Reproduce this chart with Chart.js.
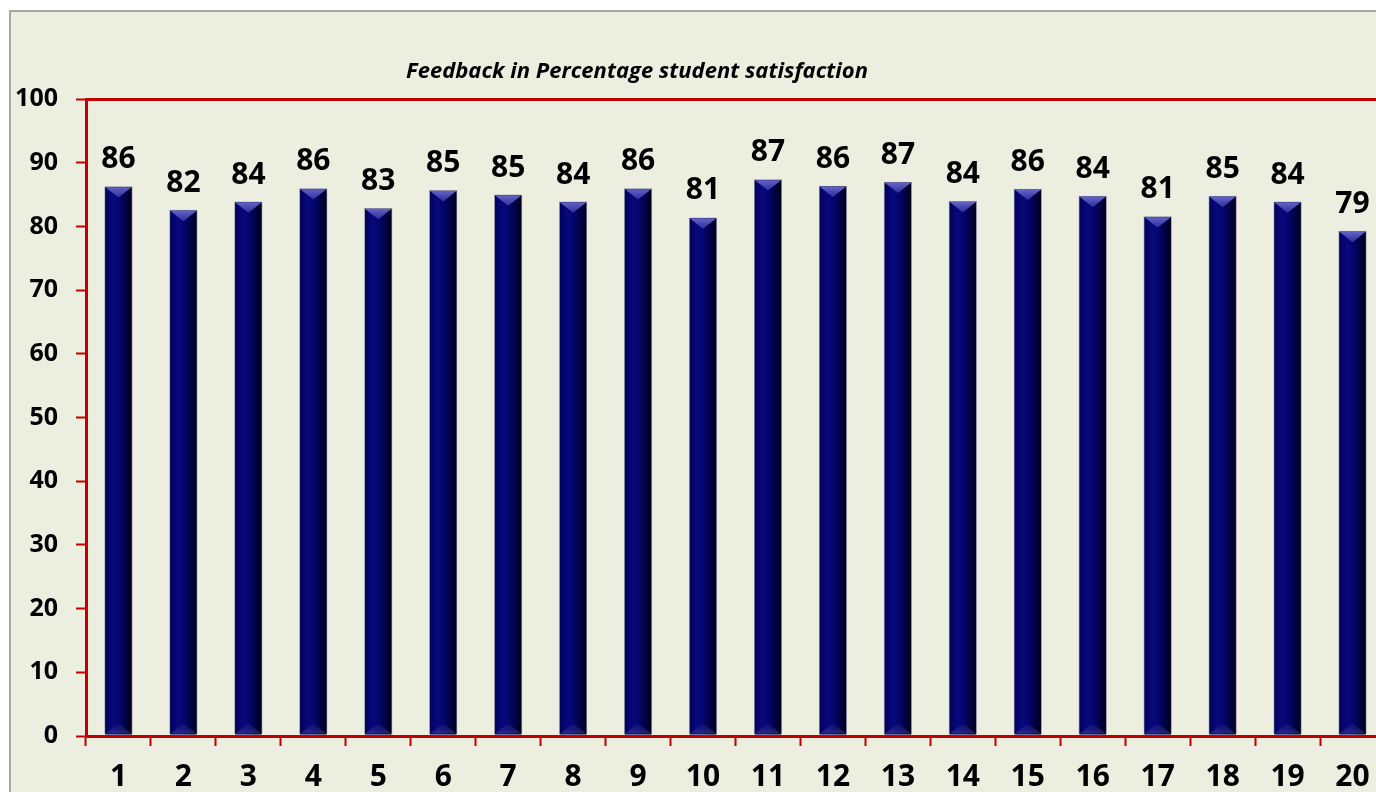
<!DOCTYPE html>
<html>
<head>
<meta charset="utf-8">
<script src="https://cdn.jsdelivr.net/npm/chart.js@4.4.1/dist/chart.umd.min.js"></script>
<style>
  html, body { margin: 0; padding: 0; width: 1376px; height: 792px; overflow: hidden; background: #ffffff; }
  #frame { position: absolute; left: 9px; top: 10px; width: 1500px; height: 900px; border: 2px solid #a6a6a6; background: #ecefdf; }
  #wrap { position: absolute; left: 0; top: 0; width: 1420px; height: 830px; }
</style>
</head>
<body>
<div id="frame"></div>
<div id="wrap"><canvas id="c" width="1420" height="830"></canvas></div>
<script>
const categories = ['1','2','3','4','5','6','7','8','9','10','11','12','13','14','15','16','17','18','19','20'];
const satisfaction = [86.3, 82.6, 83.9, 86.0, 82.9, 85.7, 85.0, 83.9, 86.0, 81.4, 87.4, 86.4, 87.0, 84.0, 85.9, 84.8, 81.6, 84.8, 83.9, 79.3];
const valueLabels = ['86','82','84','86','83','85','85','84','86','81','87','86','87','84','86','84','81','85','84','79'];
const yTicks = [0, 10, 20, 30, 40, 50, 60, 70, 80, 90, 100];
const titleText = 'Feedback in Percentage student satisfaction';

const RED = '#c00000';

const barDecor = {
  id: 'barDecor',
  afterDatasetDraw(chart, args) {
    const ctx = chart.ctx;
    const meta = args.meta;
    meta.data.forEach((bar, i) => {
      const w = bar.width;
      const l = bar.x - w / 2, r = bar.x + w / 2;
      const top = bar.y, base = bar.base;
      const th = w * 0.4;
      ctx.save();
      // body shading
      let g = ctx.createLinearGradient(l, 0, r, 0);
      g.addColorStop(0, '#000058');
      g.addColorStop(0.3, '#08087c');
      g.addColorStop(0.5, '#050570');
      g.addColorStop(0.8, '#01013e');
      g.addColorStop(1, '#00000e');
      ctx.fillStyle = g;
      ctx.fillRect(l + 1, top + 1, w - 2, base - top - 1);
      // top bevel triangle
      g = ctx.createLinearGradient(0, top, 0, top + th);
      g.addColorStop(0, 'rgba(105,105,205,1)');
      g.addColorStop(1, 'rgba(55,55,165,0.85)');
      ctx.fillStyle = g;
      ctx.beginPath();
      ctx.moveTo(l + 1, top + 1);
      ctx.lineTo(r - 1, top + 1);
      ctx.lineTo(bar.x, top + th);
      ctx.closePath();
      ctx.fill();
      // bottom bevel triangle
      g = ctx.createLinearGradient(0, base, 0, base - th);
      g.addColorStop(0, 'rgba(90,90,170,0.45)');
      g.addColorStop(1, 'rgba(60,60,150,0.12)');
      ctx.fillStyle = g;
      ctx.beginPath();
      ctx.moveTo(l + 1, base - 1);
      ctx.lineTo(r - 1, base - 1);
      ctx.lineTo(bar.x, base - th);
      ctx.closePath();
      ctx.fill();
      // value label
      ctx.fillStyle = '#000000';
      ctx.font = 'bold 30px "Open Sans"';
      ctx.textAlign = 'center';
      ctx.textBaseline = 'alphabetic';
      ctx.fillText(valueLabels[i], bar.x, top - 18);
      ctx.restore();
    });
  }
};

const titleDraw = {
  id: 'titleDraw',
  afterDraw(chart) {
    const ctx = chart.ctx;
    ctx.save();
    ctx.fillStyle = '#000000';
    ctx.font = 'italic bold 22px "Open Sans"';
    ctx.textAlign = 'center';
    ctx.textBaseline = 'alphabetic';
    ctx.fillText(titleText, 637, 78);
    ctx.restore();
  }
};

new Chart(document.getElementById('c'), {
  type: 'bar',
  data: {
    labels: categories,
    datasets: [{
      data: satisfaction,
      backgroundColor: '#000066',
      borderColor: '#8c8ca6',
      borderWidth: 1,
      borderSkipped: false,
      barPercentage: 0.435,
      categoryPercentage: 1.0
    }]
  },
  options: {
    responsive: false,
    animation: false,
    events: [],
    layout: { padding: { top: 99, right: 35, left: 0, bottom: 0 } },
    plugins: { legend: { display: false }, tooltip: { enabled: false }, title: { display: false } },
    scales: {
      y: {
        min: 0, max: 100,
        afterBuildTicks(scale) { scale.ticks = yTicks.map(v => ({ value: v })); },
        afterFit(scale) { scale.width = 86; },
        ticks: { color: '#000000', font: { family: 'Open Sans', size: 25, weight: 'bold' }, padding: 18 },
        border: { display: true, color: RED, width: 3 },
        grid: {
          drawOnChartArea: true,
          color(ctx) { return ctx.tick && ctx.tick.value === 100 ? RED : 'rgba(0,0,0,0)'; },
          lineWidth: 3,
          tickColor: RED,
          tickWidth: 2,
          tickLength: 10
        }
      },
      x: {
        afterFit(scale) { scale.height = 94; },
        ticks: { color: '#000000', font: { family: 'Open Sans', size: 30, weight: 'bold' }, padding: 13, maxRotation: 0, autoSkip: false },
        border: { display: true, color: RED, width: 3 },
        grid: {
          offset: true,
          drawOnChartArea: false,
          tickColor: RED,
          tickWidth: 2,
          tickLength: 10
        }
      }
    }
  },
  plugins: [barDecor, titleDraw]
});
</script>
</body>
</html>
